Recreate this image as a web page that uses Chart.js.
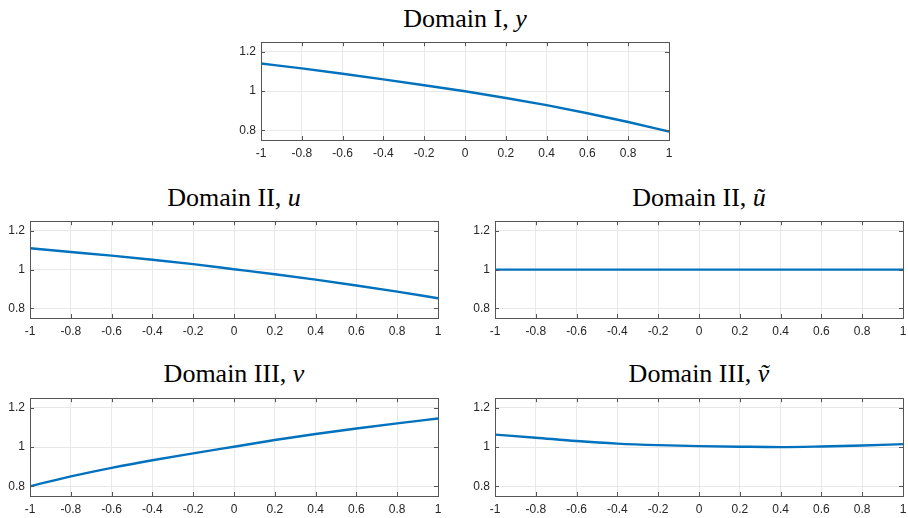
<!DOCTYPE html>
<html>
<head>
<meta charset="utf-8">
<script src="https://cdn.jsdelivr.net/npm/chart.js@4.4.1/dist/chart.umd.min.js"></script>
<style>
  body { margin: 0; background: #fff; width: 908px; height: 518px; position: relative; overflow: hidden; }
  .box { position: absolute; }
  .title { position: absolute; font-family: "Liberation Serif", "DejaVu Serif", serif; font-size: 26px; color: #000; white-space: nowrap; transform: translateX(-50%); }
  .title i { font-style: italic; }
</style>
</head>
<body>
<div class="title" style="left:465px; top:4px">Domain I, <i>y</i></div>
<div class="title" style="left:234px; top:183px">Domain II, <i>u</i></div>
<div class="title" style="left:699px; top:183px">Domain II, <i>ũ</i></div>
<div class="title" style="left:234px; top:359px">Domain III, <i>v</i></div>
<div class="title" style="left:699px; top:359px">Domain III, <i>ṽ</i></div>

<div class="box" id="b1"><canvas id="c1"></canvas></div>
<div class="box" id="b2"><canvas id="c2"></canvas></div>
<div class="box" id="b3"><canvas id="c3"></canvas></div>
<div class="box" id="b4"><canvas id="c4"></canvas></div>
<div class="box" id="b5"><canvas id="c5"></canvas></div>

<script>
// sample points along x
const xs = [-1, -0.8, -0.6, -0.4, -0.2, 0, 0.2, 0.4, 0.6, 0.8, 1];

// series
const yVals      = [1.141, 1.116, 1.089, 1.060, 1.030, 0.999, 0.965, 0.928, 0.887, 0.842, 0.793];
const uVals      = [1.110, 1.091, 1.072, 1.051, 1.028, 1.002, 0.976, 0.948, 0.918, 0.886, 0.852];
const uTildeVals = [1, 1, 1, 1, 1, 1, 1, 1, 1, 1, 1];
const vVals      = [0.800, 0.850, 0.894, 0.933, 0.968, 1.002, 1.036, 1.067, 1.095, 1.121, 1.146];
const vTildeVals = [1.064, 1.048, 1.031, 1.018, 1.010, 1.005, 1.002, 1.000, 1.003, 1.008, 1.015];

// tick labels
const xTicks = [-1, -0.8, -0.6, -0.4, -0.2, 0, 0.2, 0.4, 0.6, 0.8, 1];
const yTicks = [0.8, 1, 1.2];

const Y_W = 40, PAD_T = 8, PAD_R = 12, X_H = 26;

// MATLAB style box with inward ticks
const boxPlugin = {
  id: 'box',
  afterDraw(chart) {
    const a = chart.chartArea, c = chart.ctx;
    const sx = chart.scales.x, sy = chart.scales.y;
    c.save();
    c.strokeStyle = '#555';
    c.lineWidth = 1;
    c.beginPath();
    xTicks.forEach(t => {
      const px = Math.round(sx.getPixelForValue(t)) + 0.5;
      c.moveTo(px, a.bottom); c.lineTo(px, a.bottom - 4);
      c.moveTo(px, a.top); c.lineTo(px, a.top + 4);
    });
    yTicks.forEach(t => {
      const py = Math.round(sy.getPixelForValue(t)) + 0.5;
      c.moveTo(a.left, py); c.lineTo(a.left + 4, py);
      c.moveTo(a.right, py); c.lineTo(a.right - 4, py);
    });
    c.stroke();
    c.strokeRect(Math.round(a.left) + 0.5, Math.round(a.top) + 0.5,
                 Math.round(a.right - a.left), Math.round(a.bottom - a.top));
    c.restore();
  }
};

function makeChart(id, boxId, vals, plotLeft, plotTop, plotW, plotH) {
  const b = document.getElementById(boxId);
  b.style.left = (plotLeft - Y_W) + 'px';
  b.style.top = (plotTop - PAD_T) + 'px';
  b.style.width = (plotW + Y_W + PAD_R) + 'px';
  b.style.height = (plotH + PAD_T + X_H) + 'px';

  new Chart(document.getElementById(id), {
    type: 'line',
    data: {
      datasets: [{
        data: xs.map((x, i) => ({ x: x, y: vals[i] })),
        borderColor: '#0072BD',
        borderWidth: 2.4,
        pointRadius: 0,
        cubicInterpolationMode: 'monotone',
        fill: false
      }]
    },
    options: {
      responsive: true,
      maintainAspectRatio: false,
      animation: false,
      layout: { padding: { top: PAD_T, right: PAD_R, left: 0, bottom: 0 } },
      plugins: { legend: { display: false }, tooltip: { enabled: false } },
      scales: {
        x: {
          type: 'linear', min: -1, max: 1,
          afterBuildTicks: s => { s.ticks = xTicks.map(v => ({ value: v })); },
          afterFit: s => { s.height = X_H; },
          ticks: {
            color: '#262626', padding: 6, maxRotation: 0, autoSkip: false,
            font: { family: 'Liberation Sans, Arial, sans-serif', size: 12 },
            callback: v => String(v)
          },
          grid: { color: '#e8e8e8', drawTicks: false },
          border: { display: false }
        },
        y: {
          min: 0.75, max: 1.25,
          afterBuildTicks: s => { s.ticks = yTicks.map(v => ({ value: v })); },
          afterFit: s => { s.width = Y_W; },
          ticks: {
            color: '#262626', padding: 5,
            font: { family: 'Liberation Sans, Arial, sans-serif', size: 12 },
            callback: v => String(v)
          },
          grid: { color: '#e8e8e8', drawTicks: false },
          border: { display: false }
        }
      }
    },
    plugins: [boxPlugin]
  });
}

makeChart('c1', 'b1', yVals, 261, 38, 408, 102);
makeChart('c2', 'b2', uVals, 30, 217, 408, 101);
makeChart('c3', 'b3', uTildeVals, 495, 217, 408, 101);
makeChart('c4', 'b4', vVals, 30, 394, 408, 102);
makeChart('c5', 'b5', vTildeVals, 495, 394, 408, 102);
</script>
</body>
</html>
